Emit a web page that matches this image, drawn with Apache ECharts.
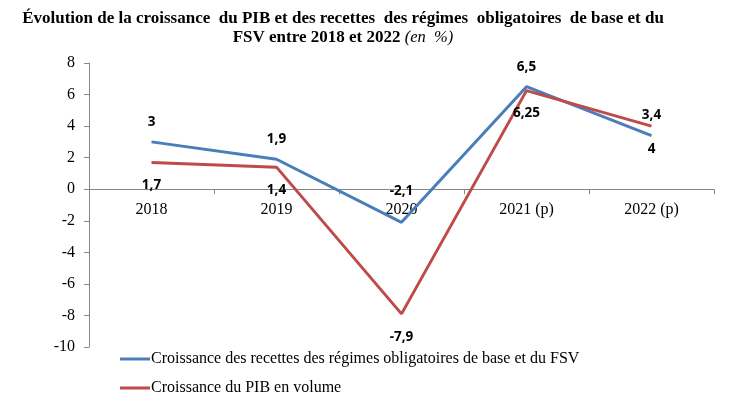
<!DOCTYPE html>
<html><head><meta charset="utf-8">
<script src="https://cdn.jsdelivr.net/npm/echarts@6/dist/echarts.min.js"></script>
<style>html,body{margin:0;padding:0;background:#fff}#c{width:737px;height:399px}</style>
</head><body><div id="c"></div>
<script>
const categories = ['2018', '2019', '2020', '2021 (p)', '2022 (p)'];
const recettes = [3, 1.9, -2.1, 6.5, 3.4];
const pib = [1.7, 1.4, -7.9, 6.25, 4];
const seriesNames = ['Croissance des recettes des régimes obligatoires de base et du FSV', 'Croissance du PIB en volume'];
const yTicks = { min: -10, max: 8, interval: 2 };

const serif = '"Liberation Serif", "DejaVu Serif", serif';
const sans = '"Open Sans", "Liberation Sans", sans-serif';
const fmt = p => String(p.value).replace('.', ',');

const G = { left: 89, right: 23, top: 63, bottom: 52 };
const gridH = 399 - G.top - G.bottom;
const zeroOffset = -gridH * (0 - yTicks.min) / (yTicks.max - yTicks.min);

// the 2020 label of the first series sits higher in the original
const recettesData = recettes.map((v, i) => i === 2 ? { value: v, label: { distance: 24 } } : v);

const chart = echarts.init(document.getElementById('c'));
chart.setOption({
  animation: false,
  title: {
    left: 338, textAlign: 'center', top: 4,
    text: 'Évolution de la croissance  du PIB et des recettes  des régimes  obligatoires  de base et du\nFSV entre 2018 et 2022 {i|(en  %)}',
    textStyle: {
      fontFamily: serif, fontWeight: 'bold', fontSize: 17, color: '#000', lineHeight: 19,
      rich: { i: { fontFamily: serif, fontStyle: 'italic', fontWeight: 'normal', fontSize: 16.5, color: '#000' } }
    }
  },
  grid: { left: G.left, right: G.right, top: G.top, bottom: G.bottom, containLabel: false },
  legend: {
    orient: 'vertical', left: 120, top: 351, itemGap: 13, padding: 0,
    icon: 'rect', itemWidth: 30, itemHeight: 3,
    textStyle: { fontFamily: serif, fontSize: 16, color: '#000', padding: [0, 0, 0, -4] },
    data: seriesNames
  },
  xAxis: {
    type: 'category', data: categories, offset: zeroOffset,
    axisLine: { onZero: false, lineStyle: { color: '#868686' } },
    axisTick: { show: true, length: 5, lineStyle: { color: '#868686' } },
    axisLabel: { fontFamily: serif, fontSize: 16, color: '#000', margin: 13 }
  },
  yAxis: {
    type: 'value', min: yTicks.min, max: yTicks.max, interval: yTicks.interval,
    splitLine: { show: false },
    axisLine: { show: true, lineStyle: { color: '#868686' } },
    axisTick: { show: true, length: 5, lineStyle: { color: '#868686' } },
    axisLabel: { fontFamily: serif, fontSize: 16, color: '#000', margin: 14 }
  },
  series: [
    {
      name: seriesNames[0], type: 'line', data: recettesData,
      symbol: 'circle', symbolSize: 0.01, itemStyle: { color: '#4A7EBB' },
      lineStyle: { color: '#4A7EBB', width: 3 },
      label: { show: true, position: 'top', distance: 13, formatter: fmt,
        fontFamily: sans, fontWeight: 'bold', fontSize: 13.5, color: '#000' }
    },
    {
      name: seriesNames[1], type: 'line', data: pib,
      symbol: 'circle', symbolSize: 0.01, itemStyle: { color: '#BE4B48' },
      lineStyle: { color: '#BE4B48', width: 3 },
      label: { show: true, position: 'bottom', distance: 16, formatter: fmt,
        fontFamily: sans, fontWeight: 'bold', fontSize: 13.5, color: '#000' }
    }
  ]
});
</script></body></html>
